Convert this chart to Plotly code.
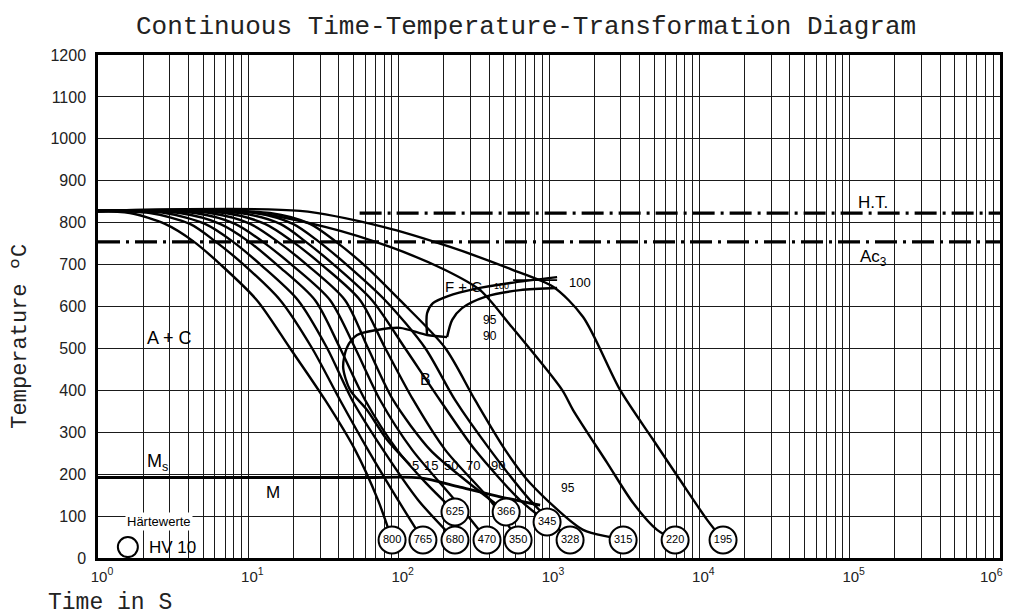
import numpy as np
import plotly.graph_objects as go

# ---------------- text ----------------
title_text = "Continuous Time-Temperature-Transformation Diagram"
x_title = "Time in S"
y_title = "Temperature ºC"

# ---------------- cooling curves (time s, temperature °C) ----------------
T_std = [828, 823, 797, 756, 697, 615, 501, 377, 258, 138, 43]

t_800 = [1, 1.63, 2.79, 4.29, 6.68, 11.4, 18.9, 32.4, 51.3, 72.9, 90.4]
T_800 = T_std
t_765 = [1, 2.22, 4.09, 6.00, 9.51, 16.3, 26.5, 40.7, 62.5, 99.1, 145]
T_765 = T_std
t_680 = [1, 2.79, 5.15, 7.80, 12.3, 21.4, 33.4, 49.0, 78.8, 135, 237]
T_680 = T_std
t_625 = [1, 3.51, 6.48, 9.95, 15.8, 27.8, 40.7, 59.8, 97.6, 150, 237]
T_625 = [828, 823, 797, 756, 697, 615, 501, 377, 258, 181, 110]
t_470 = [1, 4.42, 8.16, 12.3, 19.8, 35.0, 51.3, 75.2, 123, 237, 387]
T_470 = T_std
t_366 = [1, 5.56, 10.3, 15.5, 25.0, 44.0, 62.5, 91.8, 162, 277, 519]
T_366 = [828, 823, 797, 756, 697, 615, 501, 377, 258, 186, 110]
t_350 = [1, 7.00, 12.9, 19.5, 31.4, 55.4, 81.3, 125, 204, 406, 623]
T_350 = T_std
t_345 = [1, 8.81, 16.3, 23.8, 37.8, 66.5, 110, 188, 322, 642, 971]
T_345 = [828, 823, 797, 756, 697, 615, 501, 377, 258, 138, 86]
t_328 = [1, 11.1, 19.8, 29.1, 46.0, 81.3, 150, 237, 406, 748, 1381]
T_328 = T_std
t_315 = [1, 13.9, 25.7, 37.8, 59.8, 102, 204, 322, 511, 748, 1686, 2553, 3112]
T_315 = [828, 823, 797, 756, 697, 615, 501, 377, 258, 179, 67, 50, 43]
t_220 = [1, 8.81, 32.4, 87.7, 204, 348, 551, 1222, 1446, 2438, 3630, 5236, 6902]
T_220 = [828, 828, 790, 742, 687, 639, 556, 401, 353, 227, 131, 67, 43]
t_195 = [1, 22.1, 78.8, 220, 577, 1065, 1686, 2970, 4929, 7443, 11270, 14380]
T_195 = [828, 828, 790, 742, 687, 647, 575, 401, 282, 186, 91, 43]

hardness = [800, 765, 680, 625, 470, 366, 350, 345, 328, 315, 220, 195]

# ---------------- transformation lines ----------------
t_ms = [1, 60, 139, 256, 473, 873]
T_ms = [192, 192, 191, 169, 146, 126]

t_bain = [210, 154.5, 102, 71.8, 52.9, 45.4, 42.7, 47.5, 61.6, 83.7, 119]
T_bain = [527, 532, 549, 544, 532, 503, 456, 401, 353, 282, 222]

t_fstart = [154.5, 154.5, 169, 213, 322, 551, 1132]
T_fstart = [532, 584, 608, 625, 642, 656, 670]
t_fend = [210, 227, 264, 376, 642, 1132]
T_fend = [527, 568, 596, 623, 639, 644]
t_f100 = [577, 1132]
T_f100 = [663, 663]

t_ht = [55, 1e6]
T_ht = [823, 823]
t_ac3 = [1, 1e6]
T_ac3 = [754, 754]

# ---------------- labels ----------------
lab_text = ["A + C", "B", "F + C", "100", "100", "95", "90",
            "5", "15", "50", "70", "90", "95",
            "M<sub>s</sub>", "M", "H.T.", "Ac<sub>3</sub>", "HV 10"]
lab_t = [3.01, 150, 270, 480, 1600, 406, 406,
         129, 164, 223, 313, 459, 1340,
         2.47, 14.6, 143500, 143500, 3.15]
lab_T = [525, 425, 648, 649, 658, 568, 530,
         220, 220, 220, 220, 220, 167,
         229, 157, 849, 716, 26]
lab_size = [18, 16, 15, 9, 13, 12, 12,
            13, 13, 13, 13, 13, 12,
            18, 17, 17, 17, 17]

legend_label = "Härtewerte"
legend_t, legend_T = 2.55, 86
hv_t, hv_T = 1.58, 26

# ---------------- axes ticks ----------------
decades = [0, 1, 2, 3, 4, 5]
multipliers = [1, 2, 3, 4, 5, 6, 7, 8, 9]
y_ticks = list(range(0, 1300, 100))
last_decade = 6

tickvals, ticktext = [], []
for d in decades:
    for m in multipliers:
        tickvals.append(m * 10 ** d)
        ticktext.append(f"10<sup>{d}</sup>" if m == 1 else "")
tickvals.append(10 ** last_decade)
ticktext.append("")   # drawn below as a right-anchored label so it stays inside the page

curves = [(t_800, T_800), (t_765, T_765), (t_680, T_680), (t_625, T_625),
          (t_470, T_470), (t_366, T_366), (t_350, T_350), (t_345, T_345),
          (t_328, T_328), (t_315, T_315), (t_220, T_220), (t_195, T_195)]

fig = go.Figure()
line_style = dict(color="black", width=2.4, shape="spline", smoothing=0.8)

for t, T in curves:
    fig.add_trace(go.Scatter(x=t, y=T, mode="lines", line=line_style,
                             hoverinfo="skip", showlegend=False))

for t, T, w in [(t_ms, T_ms, 2.8), (t_bain, T_bain, 2.4), (t_fstart, T_fstart, 2.4),
                (t_fend, T_fend, 2.4), (t_f100, T_f100, 1.8)]:
    fig.add_trace(go.Scatter(x=t, y=T, mode="lines",
                             line=dict(color="black", width=w, shape="spline", smoothing=0.8),
                             hoverinfo="skip", showlegend=False))

for t, T in [(t_ht, T_ht), (t_ac3, T_ac3)]:
    fig.add_trace(go.Scatter(x=t, y=T, mode="lines",
                             line=dict(color="black", width=3.2, dash="22px,6px,3px,6px"),
                             hoverinfo="skip", showlegend=False))

# hardness circles at the end of each cooling curve
fig.add_trace(go.Scatter(
    x=[c[0][-1] for c in curves], y=[c[1][-1] for c in curves],
    mode="markers+text", text=[str(h) for h in hardness],
    textposition="middle center",
    textfont=dict(family="Liberation Sans", size=11, color="black"),
    marker=dict(symbol="circle", size=27, color="white",
                line=dict(color="black", width=2)),
    hoverinfo="skip", showlegend=False))

# legend circle
fig.add_trace(go.Scatter(x=[hv_t], y=[hv_T], mode="markers",
                         marker=dict(symbol="circle-open", size=20, color="black",
                                     line=dict(width=2)),
                         hoverinfo="skip", showlegend=False))

annotations = []
for txt, t, T, s in zip(lab_text, lab_t, lab_T, lab_size):
    annotations.append(dict(x=np.log10(t), y=T, xref="x", yref="y", text=txt,
                            showarrow=False,
                            font=dict(family="Liberation Sans", size=s, color="black")))
annotations.append(dict(x=np.log10(legend_t), y=legend_T, xref="x", yref="y",
                        text=legend_label, showarrow=False, bgcolor="white",
                        borderpad=1,
                        font=dict(family="Liberation Sans", size=13, color="black")))
annotations.append(dict(x=last_decade, y=-0.034, xref="x", yref="paper",
                        text=f"10<sup>{last_decade}</sup>", showarrow=False,
                        xanchor="right", yanchor="middle", xshift=5,
                        font=dict(family="Liberation Sans", size=15, color="#222")))
annotations.append(dict(x=0.4745, y=1.0557, xref="paper", yref="paper",
                        text=title_text, showarrow=False, xanchor="center", yanchor="middle",
                        font=dict(family="Liberation Mono", size=26, color="#222")))
annotations.append(dict(x=0, y=0.44, xref="paper", yref="paper", xshift=-77,
                        text=y_title, showarrow=False, textangle=-90,
                        xanchor="center", yanchor="middle",
                        font=dict(family="Liberation Mono", size=22, color="#222")))
annotations.append(dict(x=-0.0577, y=-0.09, xref="paper", yref="paper",
                        text=x_title, showarrow=False, xanchor="left", yanchor="middle",
                        font=dict(family="Liberation Mono", size=23, color="#222")))

# page body has an 8px margin: shrink the figure so the plot area lands where it should
fig.update_layout(
    width=1010, height=608,
    margin=dict(l=90, r=18, t=47, b=58),
    paper_bgcolor="white", plot_bgcolor="white",
    annotations=annotations,
    showlegend=False,
)
fig.update_xaxes(type="log", range=[0, 6], tickvals=tickvals, ticktext=ticktext,
                 showgrid=True, gridcolor="#1a1a1a", gridwidth=1.3,
                 showline=True, linecolor="black", linewidth=2.5, mirror=True,
                 ticks="", ticklabelshift=4, ticklabelstandoff=3,
                 ticklabeloverflow="allow", automargin=False,
                 tickfont=dict(family="Liberation Sans", size=15, color="#222"),
                 zeroline=False)
fig.update_yaxes(range=[0, 1200], tickvals=y_ticks,
                 showgrid=True, gridcolor="#1a1a1a", gridwidth=1.3,
                 showline=True, linecolor="black", linewidth=2.5, mirror=True,
                 ticks="", ticklabelstandoff=6, automargin=False,
                 tickfont=dict(family="Liberation Sans", size=16, color="#222"),
                 zeroline=False)

fig.write_html("out.html")
